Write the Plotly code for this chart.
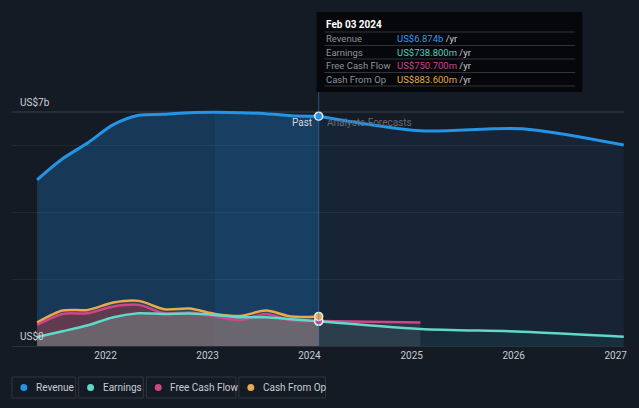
import plotly.graph_objects as go

# ---------------- data ----------------
PAST_DATES = ['2021-05-01', '2021-07-31', '2021-10-30', '2022-01-29', '2022-04-30', '2022-07-30',
              '2022-10-29', '2023-01-28', '2023-04-29', '2023-07-29', '2023-10-28', '2024-02-03']
REVENUE_PAST = [4.97, 5.60, 6.08, 6.62, 6.90, 6.93, 6.98, 6.99, 6.98, 6.95, 6.89, 6.874]
EARNINGS_PAST = [0.27, 0.44, 0.62, 0.86, 0.98, 0.96, 0.97, 0.93, 0.86, 0.86, 0.80, 0.7388]
FCF_PAST = [0.63, 0.96, 0.98, 1.18, 1.23, 0.98, 1.00, 0.88, 0.78, 0.96, 0.76, 0.7507]
CFO_PAST = [0.70, 1.06, 1.08, 1.30, 1.35, 1.10, 1.12, 0.96, 0.90, 1.06, 0.88, 0.8836]

FC_DATES = ['2024-02-03', '2025-02-01', '2026-01-31', '2027-01-30']
REVENUE_FC = [6.874, 6.44, 6.50, 6.01]
EARNINGS_FC = [0.7388, 0.51, 0.43, 0.28]
FCF_FC_DATES = ['2024-02-03', '2025-02-01']
FCF_FC = [0.7507, 0.70]

LAST_YEAR_START = 7  # index of first point of the highlighted last-12-months band
YEAR_TICKS = ['2022-01-01', '2023-01-01', '2024-01-01', '2025-01-01', '2026-01-01', '2027-01-01']
YEAR_LABELS = ['2022', '2023', '2024', '2025', '2026', '2027']
Y_LABEL_VALUES = [0, 7]
Y_LABELS = ['US$0', 'US$7b']
TOOLTIP_DATE = 'Feb 03 2024'
SERIES = ['Revenue', 'Earnings', 'Free Cash Flow', 'Cash From Op']

# ---------------- styles ----------------
W, H = 639, 408
BG = '#151b25'
C_REV = '#2394e6'
C_EARN = '#5fd9c9'
C_FCF = '#cf4589'
C_CFO = '#e9a94c'
FONT = 'Roboto, "Noto Sans", sans-serif'


def px(x):
    return x / W


def py(y):
    return 1 - y / H


fig = go.Figure()

# ---- fills (past) ----
fig.add_trace(go.Scatter(x=PAST_DATES, y=REVENUE_PAST, mode='lines', line=dict(width=0, shape='spline', smoothing=0.8),
                         fill='tozeroy', fillcolor='rgba(33,150,243,0.24)', hoverinfo='skip'))
fig.add_trace(go.Scatter(x=PAST_DATES[LAST_YEAR_START:], y=REVENUE_PAST[LAST_YEAR_START:], mode='lines',
                         line=dict(width=0, shape='spline', smoothing=0.8),
                         fill='tozeroy', fillcolor='rgba(40,140,220,0.09)', hoverinfo='skip'))
fig.add_trace(go.Scatter(x=PAST_DATES, y=CFO_PAST, mode='lines', line=dict(width=0, shape='spline', smoothing=0.8),
                         fill='tozeroy', fillcolor='rgba(230,150,60,0.12)', hoverinfo='skip'))
fig.add_trace(go.Scatter(x=PAST_DATES, y=FCF_PAST, mode='lines', line=dict(width=0, shape='spline', smoothing=0.8),
                         fill='tozeroy', fillcolor='rgba(180,50,70,0.35)', hoverinfo='skip'))
fig.add_trace(go.Scatter(x=PAST_DATES, y=EARNINGS_PAST, mode='lines', line=dict(width=0, shape='spline', smoothing=0.8),
                         fill='tozeroy', fillcolor='rgba(135,185,170,0.32)', hoverinfo='skip'))

# ---- fills (forecast) ----
fig.add_trace(go.Scatter(x=FC_DATES, y=REVENUE_FC, mode='lines', line=dict(width=0, shape='spline', smoothing=0.8),
                         fill='tozeroy', fillcolor='rgba(33,150,243,0.08)', hoverinfo='skip'))
fig.add_trace(go.Scatter(x=FC_DATES, y=EARNINGS_FC, mode='lines', line=dict(width=0, shape='spline', smoothing=0.8),
                         fill='tozeroy', fillcolor='rgba(93,216,200,0.06)', hoverinfo='skip'))
fig.add_trace(go.Scatter(x=FCF_FC_DATES, y=FCF_FC, mode='lines', line=dict(width=0),
                         fill='tozeroy', fillcolor='rgba(220,200,220,0.10)', hoverinfo='skip'))

# ---- lines ----
for xs, ys, c, w in [
    (PAST_DATES, CFO_PAST, C_CFO, 2.5),
    (PAST_DATES, FCF_PAST, C_FCF, 2.5),
    (PAST_DATES, EARNINGS_PAST, C_EARN, 2.5),
    (FCF_FC_DATES, FCF_FC, C_FCF, 2.5),
    (FC_DATES, EARNINGS_FC, C_EARN, 2.5),
    (PAST_DATES, REVENUE_PAST, C_REV, 3),
    (FC_DATES, REVENUE_FC, C_REV, 3),
]:
    fig.add_trace(go.Scatter(x=xs, y=ys, mode='lines', line=dict(color=c, width=w, shape='spline', smoothing=0.8),
                             hoverinfo='skip'))

# ---- end-of-past markers ----
end_x = PAST_DATES[-1]
for val, c in [(EARNINGS_PAST[-1], C_EARN), (FCF_PAST[-1], C_FCF), (CFO_PAST[-1], C_CFO), (REVENUE_PAST[-1], C_REV)]:
    fig.add_trace(go.Scatter(x=[end_x], y=[val], mode='markers',
                             marker=dict(size=8, color=c, line=dict(color='#e8ecf0', width=1.5)), hoverinfo='skip'))

shapes = []
annotations = []

# 7b reference line
shapes.append(dict(type='line', xref='x domain', x0=0, x1=1, yref='y', y0=Y_LABEL_VALUES[1], y1=Y_LABEL_VALUES[1],
                   line=dict(color='#3a414c', width=1), layer='below'))
# hover vertical line
shapes.append(dict(type='line', xref='x', x0=end_x, x1=end_x, yref='paper', y0=py(346), y1=py(92),
                   line=dict(color='rgba(70,130,185,0.55)', width=1), layer='above'))

# y labels
for v, t in zip(Y_LABEL_VALUES, Y_LABELS):
    annotations.append(dict(x=px(18), xref='paper', xanchor='left', y=v, yref='y', yanchor='bottom', yshift=2,
                            text=t, showarrow=False, font=dict(color='#cdd1d6', size=10, family=FONT)))

# Past / Analysts Forecasts
annotations.append(dict(x=end_x, xref='x', xanchor='right', xshift=-5, y=py(122), yref='paper', yanchor='middle',
                        text='Past', showarrow=False, font=dict(color='#d2d6dc', size=10, family=FONT)))
annotations.append(dict(x=end_x, xref='x', xanchor='left', xshift=6, y=py(122), yref='paper', yanchor='middle',
                        text='Analysts Forecasts', showarrow=False, font=dict(color='#646a74', size=10, family=FONT)))

# tooltip box
shapes.append(dict(type='rect', xref='paper', yref='paper', x0=px(318), x1=px(585), y0=py(92), y1=py(12),
                   fillcolor='#05070a', line=dict(width=0), layer='above'))
annotations.append(dict(x=px(326), xref='paper', xanchor='left', y=py(24), yref='paper', yanchor='middle',
                        text='<b>' + TOOLTIP_DATE + '</b>', showarrow=False,
                        font=dict(color='#ffffff', size=10, family=FONT)))
for yy in [32, 45.5, 59, 72.5, 86]:
    shapes.append(dict(type='line', xref='paper', yref='paper', x0=px(326), x1=px(578), y0=py(yy), y1=py(yy),
                       line=dict(color='#30343a', width=1), layer='above'))
vals = [REVENUE_PAST[-1], EARNINGS_PAST[-1], FCF_PAST[-1], CFO_PAST[-1]]
cols = ['#2a9df0', '#4fd1bf', '#d0418a', '#e8a94a']
texts = ['US$%.3fb' % vals[0]] + ['US$%.3fm' % (v * 1000) for v in vals[1:]]
for i, (name, t, c) in enumerate(zip(SERIES, texts, cols)):
    yc = 38.7 + i * 13.5
    annotations.append(dict(x=px(326), xref='paper', xanchor='left', y=py(yc), yref='paper', yanchor='middle',
                            text=name, showarrow=False, font=dict(color='#8d939b', size=9.5, family=FONT)))
    annotations.append(dict(x=px(397), xref='paper', xanchor='left', y=py(yc), yref='paper', yanchor='middle',
                            text="<span style='color:%s'>%s</span> /yr" % (c, t), showarrow=False,
                            font=dict(color='#c8ccd2', size=9.5, family=FONT)))

# legend boxes
legend_boxes = [(12, 76), (79, 144), (147, 237), (240, 327)]
for (x0, x1), name, c in zip(legend_boxes, SERIES, [C_REV, C_EARN, C_FCF, C_CFO]):
    shapes.append(dict(type='rect', xref='paper', yref='paper', x0=px(x0), x1=px(x1), y0=py(398), y1=py(377),
                       fillcolor=BG, line=dict(color='#2f3641', width=1)))
    shapes.append(dict(type='circle', xref='paper', yref='paper', x0=px(x0 + 8.5), x1=px(x0 + 15.5),
                       y0=py(391), y1=py(384), fillcolor=c, line=dict(width=0)))
    annotations.append(dict(x=px(x0 + 22), xref='paper', xanchor='left', y=py(387.5), yref='paper', yanchor='middle',
                            text=name, showarrow=False, font=dict(color='#c8ccd2', size=10, family=FONT)))

fig.update_layout(
    width=W, height=H,
    margin=dict(l=0, r=0, t=0, b=0),
    paper_bgcolor=BG, plot_bgcolor=BG,
    showlegend=False,
    font=dict(family=FONT, color='#c8ccd2', size=10),
    shapes=shapes, annotations=annotations,
    xaxis=dict(domain=[px(12), px(627)], range=['2021-01-31', '2027-01-31'], type='date',
               tickvals=YEAR_TICKS, ticktext=YEAR_LABELS, showgrid=False, zeroline=False,
               showline=True, linecolor='#2b323d', linewidth=1, ticks='', ticklen=0,
               tickfont=dict(color='#c8ccd2', size=10, family=FONT), fixedrange=True),
    yaxis=dict(domain=[1 - 346 / H, 1], range=[0, 346 / 33.43], tickvals=[2, 4, 6],
               showticklabels=False, showgrid=True, gridcolor='#202833', gridwidth=1, zeroline=False,
               showline=False, fixedrange=True),
)

fig.write_html('out.html', config={'displayModeBar': False},
               post_script="document.body.style.margin='0px';document.body.style.background='%s';" % BG)
